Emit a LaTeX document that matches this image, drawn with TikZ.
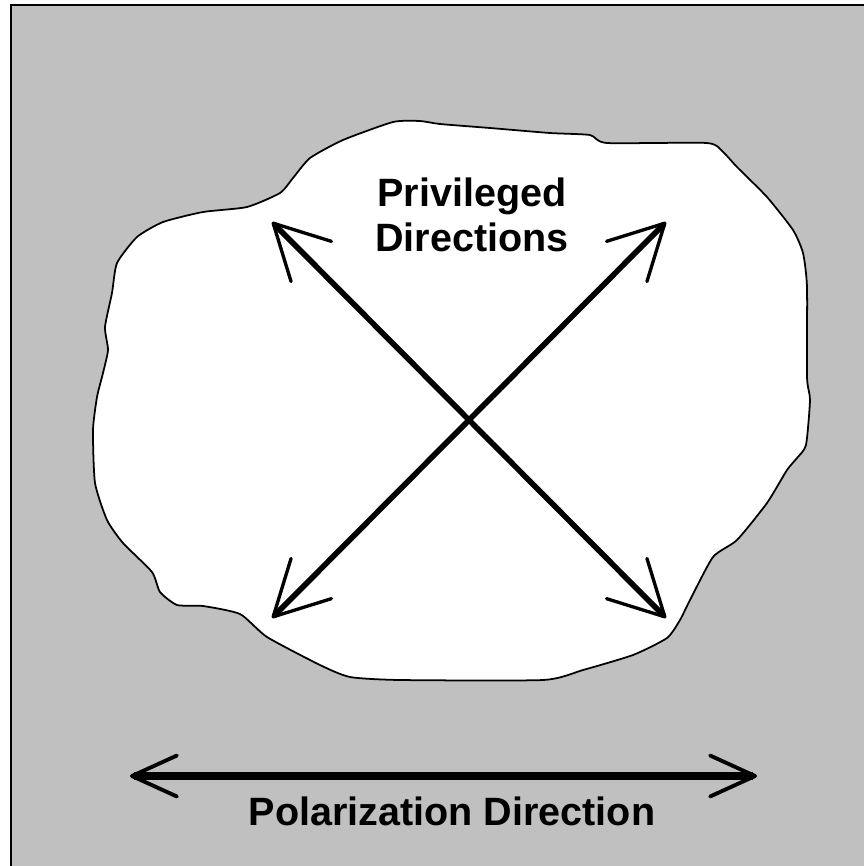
\documentclass[tikz,border=0pt]{standalone}
\usepackage{fontspec}
\setmainfont{Liberation Sans}
\usetikzlibrary{arrows.meta}
\definecolor{plategray}{HTML}{C0C0C0}

\begin{document}
\begin{tikzpicture}[x=0.02cm,y=-0.02cm,
    lbl/.style={font={\fontsize{22.5}{25.5}\selectfont\bfseries},inner sep=0pt},
    dirarrow/.style={line width=3.2pt,
      {Straight Barb[length=1.08cm,width=1.14cm,line width=1.9pt,round]}-{Straight Barb[length=1.08cm,width=1.14cm,line width=1.9pt,round]}},
    polarrow/.style={line width=4pt,
      {Straight Barb[length=0.9cm,width=0.82cm,line width=2.2pt,round]}-{Straight Barb[length=0.9cm,width=0.82cm,line width=2.2pt,round]}}]
    \clip (0,0) rectangle (864,866);
    \filldraw[fill=plategray,line width=1.2pt] (11,5) rectangle (900,900);
    % the grain
    \filldraw[fill=white,line width=1pt] plot[smooth cycle,tension=0.35] coordinates {
      (393,122) (420,121) (440,124) (490,128) (550,133) (590,135) (607,143) (707,143)
      (723,152) (737,167) (767,197) (793,230) (803,253) (807,287) (807,377) (810,400)
      (806,445) (797,458) (787,470) (767,503) (737,540) (713,557) (690,600) (680,620) (667,638)
      (633,655) (583,670) (543,680) (400,680) (350,677) (320,665) (267,637) (240,614)
      (203,606) (177,605) (160,592) (152,572) (123,543) (107,520) (95,483) (93,430)
      (97,397) (103,373) (108,350) (105,327) (112,293) (117,263) (137,237) (163,222)
      (203,212) (247,207) (280,193) (293,178) (310,158) (343,140)};
    \coordinate (nw) at (272,222); \coordinate (se) at (666,618);
    \coordinate (ne) at (666,222); \coordinate (sw) at (272,618);
    \draw[dirarrow] (nw) -- (se);
    \draw[dirarrow] (ne) -- (sw);
    \node[lbl,align=center] (privlbl) at (472,215) {Privileged\\Directions};
    \coordinate (pw) at (130,776); \coordinate (pe) at (757,776);
    \draw[polarrow] (pw) -- (pe);
    \node[lbl,anchor=base] (pollbl) at (452,825) {Polarization Direction};
\end{tikzpicture}
\end{document}
